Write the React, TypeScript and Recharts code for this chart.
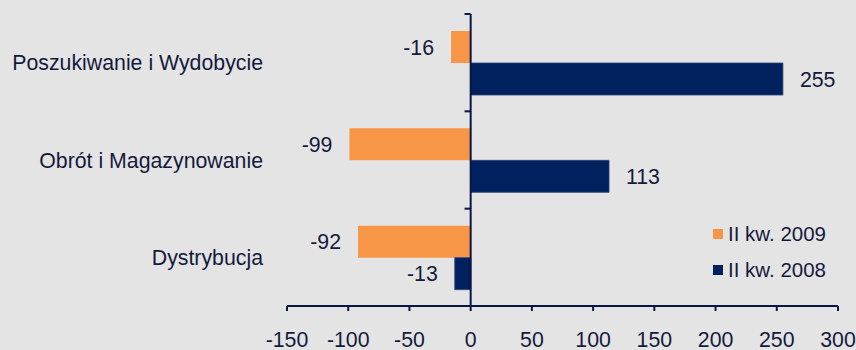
import React from 'react'
import {
  BarChart, Bar, XAxis, YAxis, ReferenceLine, LabelList, Legend,
} from 'recharts'

const categories = ['Poszukiwanie i Wydobycie', 'Obrót i Magazynowanie', 'Dystrybucja']
const q2_2009 = [-16, -99, -92]
const q2_2008 = [255, 113, -13]
const seriesNames = ['II kw. 2009', 'II kw. 2008']
const xTicks = [-150, -100, -50, 0, 50, 100, 150, 200, 250, 300]

const COLORS = ['#f79646', '#00205e']
const TEXT = '#141a3c'
const AXIS = '#0b1546'
const FONT = '"Liberation Sans", Arial, sans-serif'

const data = categories.map((name, i) => ({
  name,
  a: q2_2009[i],
  b: q2_2008[i],
}))

// small marks on the zero line at the band edges
const edgeMarks = [
  ...categories.map((c) => ({ cat: c, pos: 'start' as const })),
  { cat: categories[categories.length - 1], pos: 'end' as const },
]

const LegendBox = () => (
  <div style={{ fontFamily: FONT, fontSize: 20.5, color: TEXT }}>
    {seriesNames.map((n, i) => (
      <div key={n} style={{ display: 'flex', alignItems: 'center', height: 36 }}>
        <span style={{ width: 10, height: 10, background: COLORS[i], marginRight: 5 }} />
        <span>{n}</span>
      </div>
    ))}
  </div>
)

const App: React.FC = () => {
  return (
    <div style={{ position: 'absolute', left: 0, top: 0, width: 856, height: 350, background: '#e4e4e4' }}>
      <BarChart
        width={856}
        height={350}
        data={data}
        layout="vertical"
        margin={{ top: 14, right: 18, bottom: 0, left: 0 }}
        barGap={0}
        barSize={32}
        style={{ fontFamily: FONT }}
      >
        <XAxis
          type="number"
          domain={[-150, 300]}
          ticks={xTicks}
          interval={0}
          height={44}
          tickSize={5}
          tickMargin={21}
          stroke={AXIS}
          strokeWidth={2}
          tick={{ fill: TEXT, fontSize: 21.3 }}
        />
        <YAxis
          type="category"
          dataKey="name"
          width={287}
          axisLine={false}
          tickLine={false}
          tickSize={0}
          tickMargin={24}
          tick={{ fill: TEXT, fontSize: 21.3 }}
        />
        <Bar dataKey="a" name={seriesNames[0]} fill={COLORS[0]} isAnimationActive={false}>
          <LabelList dataKey="a" position="right" offset={17} fill={TEXT} fontSize={21.3} />
        </Bar>
        <Bar dataKey="b" name={seriesNames[1]} fill={COLORS[1]} stroke="#2c4578" strokeWidth={0.8} isAnimationActive={false}>
          <LabelList dataKey="b" position="right" offset={17} fill={TEXT} fontSize={21.3} />
        </Bar>
        <ReferenceLine x={0} stroke={AXIS} strokeWidth={2} />
        {edgeMarks.map((m, i) => (
          <ReferenceLine
            key={i}
            position={m.pos}
            ifOverflow="visible"
            segment={[{ x: -5, y: m.cat }, { x: 0, y: m.cat }]}
            stroke={AXIS}
            strokeWidth={2}
          />
        ))}
        <Legend
          layout="vertical"
          align="center"
          verticalAlign="middle"
          wrapperStyle={{ left: 713, top: 216, width: 140 }}
          content={() => <LegendBox />}
        />
      </BarChart>
    </div>
  )
}

export default App
